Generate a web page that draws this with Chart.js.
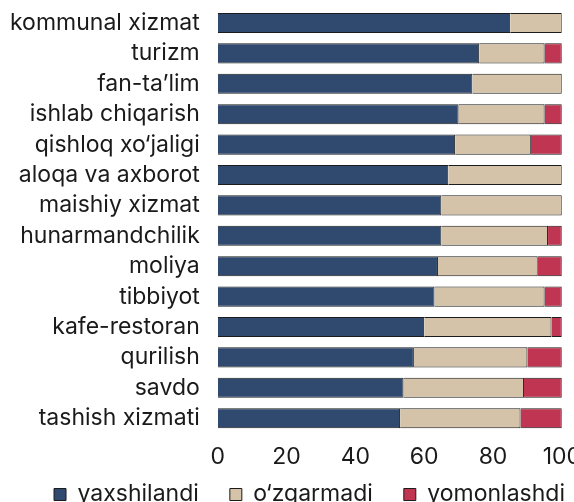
<!DOCTYPE html>
<html>
<head>
<meta charset="utf-8">
<script src="https://cdn.jsdelivr.net/npm/chart.js@4/dist/chart.umd.min.js"></script>
<style>
    html, body { margin: 0; padding: 0; background: #fff; overflow: hidden; }
    #contenedor { position: relative; width: 583px; height: 553px; margin-top: -16px; }
</style>
</head>
<body>
<div id="contenedor"><canvas id="chart1"></canvas></div>
<script>
// Categorías (sectores) del gráfico.
const SECTORES = ['kommunal xizmat', 'turizm', 'fan-ta\u2019lim', 'ishlab chiqarish', 'qishloq xo\u2018jaligi',
    'aloqa va axborot', 'maishiy xizmat', 'hunarmandchilik', 'moliya', 'tibbiyot', 'kafe-restoran',
    'qurilish', 'savdo', 'tashish xizmati'];
// Porcentajes de cada serie.
const YAXSHILANDI = [85, 76, 74, 70, 69, 67, 65, 65, 64, 63, 60, 57, 54, 53];
const OZGARMADI = [15, 19, 26, 25, 22, 33, 35, 31, 29, 32, 37, 33, 35, 35];
const YOMONLASHDI = [0, 5, 0, 5, 9, 0, 0, 4, 7, 5, 3, 10, 11, 12];
// Etiquetas de la leyenda.
const SERIES = ['yaxshilandi', 'o\u2018zgarmadi', 'yomonlashdi'];
const COLORES = ['#2f4a6e', '#d4c3a8', '#bf3552'];

// Se construye el gráfico cuando el documento ha cargado.
document.addEventListener('DOMContentLoaded', () => {
    graficoBarrasApiladas();
});

// Plugin para acercar la leyenda al eje x y correrla un poco a la derecha.
const moverLeyenda = {
    id: 'moverLeyenda',
    afterLayout: (chart) => {
        chart.legend.top -= 21;
        chart.legend.bottom -= 21;
        chart.legend.left += 18;
        chart.legend.right += 18;
    }
};

const graficoBarrasApiladas = () => {
    const VALORES = [YAXSHILANDI, OZGARMADI, YOMONLASHDI];
    const datasets = SERIES.map((nombre, i) => ({
        label: nombre,
        data: VALORES[i],
        backgroundColor: COLORES[i],
        borderColor: '#1c1c1c',
        borderWidth: 1,
        barPercentage: 0.66,
        categoryPercentage: 1
    }));

    new Chart(document.getElementById('chart1').getContext('2d'), {
        type: 'bar',
        data: { labels: SECTORES, datasets: datasets },
        plugins: [moverLeyenda],
        options: {
            indexAxis: 'y',
            responsive: true,
            maintainAspectRatio: false,
            animation: false,
            layout: { padding: { top: -6, left: 0, right: 0, bottom: 0 } },
            plugins: {
                legend: {
                    position: 'bottom',
                    labels: {
                        boxWidth: 12,
                        boxHeight: 12,
                        padding: 31,
                        color: '#1a1a1a',
                        font: { family: 'Inter', size: 23 }
                    }
                },
                tooltip: { enabled: false }
            },
            scales: {
                x: {
                    stacked: true,
                    min: 0,
                    max: 100,
                    grid: { display: false },
                    border: { display: false },
                    ticks: {
                        stepSize: 20,
                        maxRotation: 0,
                        padding: 2,
                        color: '#1a1a1a',
                        font: { family: 'Inter', size: 23 }
                    }
                },
                y: {
                    stacked: true,
                    grid: { display: false },
                    border: { display: false },
                    ticks: {
                        autoSkip: false,
                        padding: 10,
                        color: '#1a1a1a',
                        font: { family: 'Inter', size: 23 }
                    }
                }
            }
        }
    });
};
</script>
</body>
</html>
